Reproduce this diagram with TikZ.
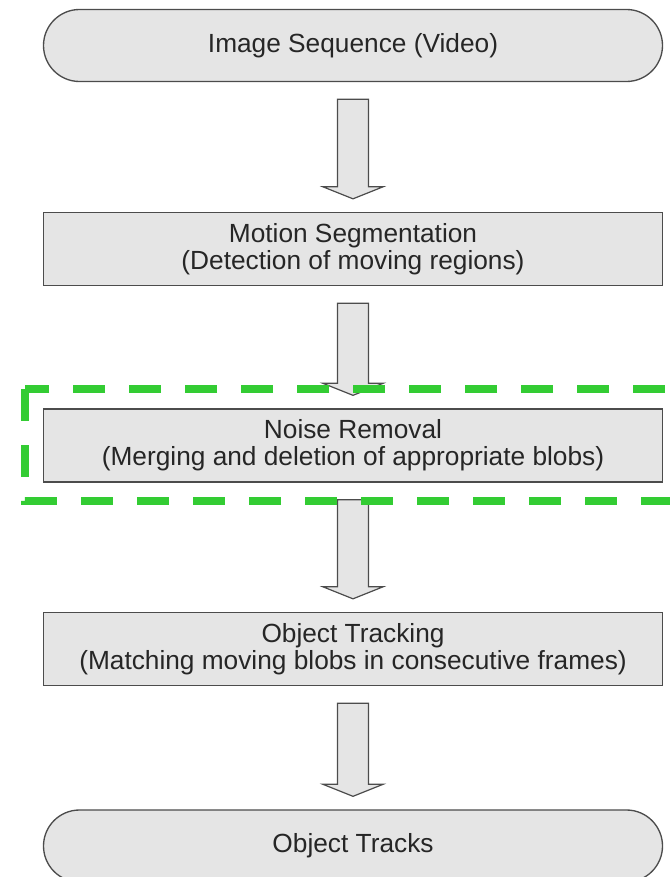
\documentclass[tikz,border=0pt]{standalone}
\usepackage{fontspec}
\setmainfont{Liberation Sans}
\usetikzlibrary{calc}
\definecolor{focusgreen}{RGB}{51,204,51}
\newcommand{\fatarrow}[2]{%
  \draw[fatarrow] ($(#1.south)+(-15.5,17)$) -- ($(#2.north)+(-15.5,-25)$) -- ($(#2.north)+(-30,-25)$)
    -- ($(#2.north)+(0,-13)$) -- ($(#2.north)+(30,-25)$) -- ($(#2.north)+(15.5,-25)$)
    -- ($(#1.south)+(15.5,17)$) -- cycle;}

\begin{document}
\begin{tikzpicture}[x=0.75pt,y=-0.75pt,
  every node/.style={font=\fontsize{19.7}{20.5}\selectfont, text=black!85, align=center},
  stepbox/.style={draw=black!70, line width=1pt, fill=black!10, minimum width=464.25pt, minimum height=54.75pt},
  terminal/.style={stepbox, rounded corners=27pt, minimum height=54pt},
  fatarrow/.style={draw=black!70, line width=0.9pt, fill=black!10, line join=miter},
  focus/.style={draw=focusgreen, line width=6pt, dash pattern=on 24pt off 18pt, line join=miter}]
	\useasboundingbox (0,0) rectangle (670,877);

	\node[terminal] (video) at (353,45.5) {Image Sequence (Video)};
	\node[stepbox] (motion) at (353,249) {Motion Segmentation\\(Detection of moving regions)};
	\node[stepbox] (noise) at (353,445.5) {Noise Removal\\(Merging and deletion of appropriate blobs)};
	\node[stepbox] (tracking) at (353,649) {Object Tracking\\(Matching moving blobs in consecutive frames)};
	\node[terminal] (tracks) at (353,846) {Object Tracks};

	\fatarrow{video}{motion}
	\fatarrow{motion}{noise}
	\fatarrow{noise}{tracking}
	\fatarrow{tracking}{tracks}

	\draw[focus] (25,389) rectangle (681,501);
\end{tikzpicture}
\end{document}
